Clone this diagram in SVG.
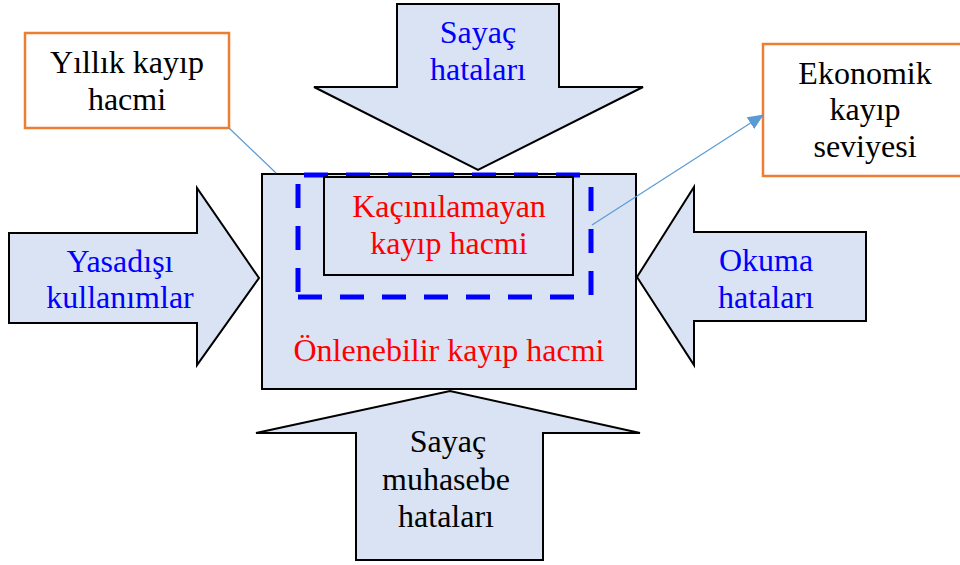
<svg xmlns="http://www.w3.org/2000/svg" width="960" height="565" viewBox="0 0 960 565">
<style>
.arrow{fill:#DAE3F3;stroke:#000;stroke-width:2;stroke-linejoin:miter}
.box{fill:#fff;stroke:#ED7D31;stroke-width:2.5}
.t{font-family:'Liberation Serif','Times New Roman',Tinos,'DejaVu Serif',serif;font-size:32px;text-anchor:middle}
.blue{fill:#0000FF}
.red{fill:#FF0000}
.blk{fill:#000}
.conn{stroke:#5B9BD5;stroke-width:1.2;fill:none}
.dash{stroke:#0000FF;stroke-width:5;stroke-dasharray:24 18;fill:none}
</style>
<defs>
<marker id="ah" markerUnits="userSpaceOnUse" markerWidth="16" markerHeight="14" refX="15" refY="7" orient="auto">
<path d="M0,0 L16,7 L0,14 Z" fill="#5B9BD5"/>
</marker>
</defs>
<g id="main">
<rect x="262" y="174" width="374" height="215" class="arrow"/>
<line class="dash" x1="304" y1="175" x2="588" y2="175"/>
<line class="dash" x1="298" y1="292" x2="298" y2="176"/>
<line class="dash" x1="591" y1="187" x2="591" y2="297"/>
<line class="dash" x1="298" y1="297" x2="591" y2="297"/>
<text class="t red" x="449" y="361">Önlenebilir kayıp hacmi</text>
</g>
<g id="inner">
<rect x="324" y="177" width="249" height="98" class="arrow"/>
<text class="t red" x="449" y="217">Kaçınılamayan</text>
<text class="t red" x="449" y="254">kayıp hacmi</text>
</g>
<g id="top-arrow">
<polygon class="arrow" points="397,4 559,4 559,87 643,87 478,170 314,87 397,87"/>
<text class="t blue" x="478" y="43">Sayaç</text>
<text class="t blue" x="478" y="80">hataları</text>
</g>
<g id="left-arrow">
<polygon class="arrow" points="9,233 197,233 197,188 259,278 197,365 197,323 9,323"/>
<text class="t blue" x="120" y="272">Yasadışı</text>
<text class="t blue" x="120" y="308">kullanımlar</text>
</g>
<g id="right-arrow">
<polygon class="arrow" points="866,232 694,232 694,187 637,277 694,365 694,321 866,321"/>
<text class="t blue" x="766" y="271">Okuma</text>
<text class="t blue" x="766" y="308">hataları</text>
</g>
<g id="bottom-arrow">
<polygon class="arrow" points="356,560 543,560 543,433 640,433 450,391 256,433 356,433"/>
<text class="t blk" x="448" y="452">Sayaç</text>
<text class="t blk" x="446" y="490">muhasebe</text>
<text class="t blk" x="446" y="527">hataları</text>
</g>
<g id="yillik">
<rect class="box" x="25" y="33" width="204" height="95"/>
<text class="t blk" x="127" y="73">Yıllık kayıp</text>
<text class="t blk" x="127" y="110">hacmi</text>
</g>
<g id="ekonomik">
<rect class="box" x="763" y="44" width="210" height="132"/>
<text class="t blk" x="865" y="84">Ekonomik</text>
<text class="t blk" x="865" y="120">kayıp</text>
<text class="t blk" x="865" y="157">seviyesi</text>
</g>
<g id="connectors">
<line class="conn" x1="229" y1="128" x2="276" y2="173"/>
<line class="conn" x1="592" y1="225" x2="763" y2="115" marker-end="url(#ah)"/>
</g>
</svg>
